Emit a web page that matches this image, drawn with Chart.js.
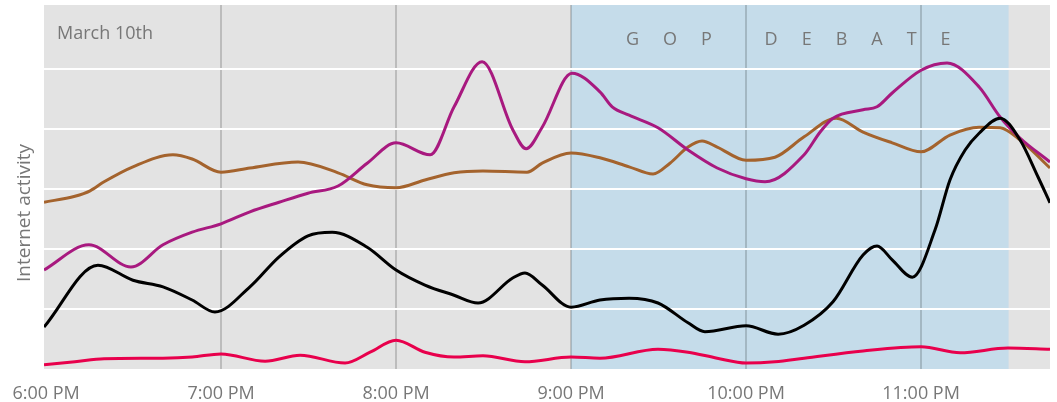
<!DOCTYPE html>
<html>
<head>
<meta charset="utf-8">
<script src="https://cdn.jsdelivr.net/npm/chart.js@4/dist/chart.umd.min.js"></script>
<style>
  html, body { margin: 0; padding: 0; background: #fff; }
  #wrap { position: relative; width: 1057px; height: 402px; }
</style>
</head>
<body>
<div id="wrap"><canvas id="activityChart"></canvas></div>
<script>
// minutes after 6:00 PM
const hourTicks = [0, 60, 120, 180, 240, 300];
const hourLabels = ['6:00 PM', '7:00 PM', '8:00 PM', '9:00 PM', '10:00 PM', '11:00 PM'];
const debateStart = 180;
const debateEnd = 330;

const blackTimes = [-0.7, 17.8, 29.8, 40.1, 50.1, 57.9, 69.9, 79.9, 89.8, 98.1, 110.1, 120, 129.9, 139.9, 148.1, 160.1, 164.2, 170.1, 180, 189.9, 199.9, 209.8, 220.1, 225.9, 240, 251, 259.9, 269.8, 280.1, 284.9, 290.1, 297, 304.8, 309.9, 315.1, 319.9, 327.1, 333.9, 340.1, 344.2];
const blackValues = [0.70, 1.73, 1.48, 1.37, 1.15, 0.95, 1.37, 1.87, 2.22, 2.28, 2.03, 1.65, 1.40, 1.23, 1.10, 1.52, 1.60, 1.40, 1.03, 1.15, 1.18, 1.10, 0.77, 0.62, 0.72, 0.58, 0.73, 1.12, 1.90, 2.05, 1.82, 1.53, 2.32, 3.15, 3.65, 3.93, 4.18, 3.82, 3.20, 2.77];

const magentaTimes = [-0.7, 14.7, 29.1, 40.1, 50.1, 60, 69.9, 79.9, 89.8, 100.1, 110.1, 120, 131.7, 139.9, 149.5, 160.1, 164.6, 170.1, 180.3, 189.9, 194.1, 199.9, 209.8, 220.1, 230.1, 240, 246.5, 259.9, 265.4, 269.8, 280.1, 284.9, 290.1, 300, 308.9, 319.9, 327.1, 333.9, 344.2];
const magentaValues = [1.65, 2.07, 1.70, 2.07, 2.28, 2.42, 2.62, 2.78, 2.93, 3.05, 3.43, 3.77, 3.57, 4.37, 5.12, 3.98, 3.67, 4.03, 4.93, 4.62, 4.37, 4.23, 4.02, 3.65, 3.35, 3.17, 3.12, 3.57, 3.95, 4.18, 4.32, 4.37, 4.60, 4.98, 5.10, 4.70, 4.20, 3.85, 3.45];

const brownTimes = [-0.7, 9.9, 15.1, 19.9, 29.8, 43.5, 50.1, 60, 69.9, 86.4, 100.1, 110.1, 120, 129.9, 139.9, 149.8, 164.9, 170.1, 180, 189.9, 199.9, 208.1, 213.9, 220.1, 224.9, 230.1, 240, 249.9, 259.9, 270.9, 280.1, 290.1, 300, 309.9, 319.9, 327.1, 333.9, 344.2];
const brownValues = [2.78, 2.88, 2.97, 3.12, 3.37, 3.57, 3.50, 3.28, 3.35, 3.45, 3.27, 3.07, 3.02, 3.15, 3.27, 3.30, 3.28, 3.43, 3.60, 3.52, 3.37, 3.25, 3.43, 3.70, 3.80, 3.70, 3.48, 3.53, 3.87, 4.18, 3.95, 3.77, 3.62, 3.90, 4.03, 4.02, 3.82, 3.35];

const redTimes = [-0.7, 9.9, 19.9, 40.1, 50.1, 60, 75.1, 87.1, 102.5, 111.1, 120, 129.9, 139.9, 149.8, 164.2, 180, 189.9, 209.8, 220.1, 230.1, 240, 249.9, 259.9, 280.1, 300, 313.4, 329.8, 344.2];
const redValues = [0.07, 0.12, 0.17, 0.18, 0.20, 0.25, 0.13, 0.23, 0.10, 0.28, 0.48, 0.28, 0.20, 0.22, 0.12, 0.20, 0.18, 0.33, 0.28, 0.18, 0.10, 0.12, 0.18, 0.30, 0.37, 0.27, 0.35, 0.33];

const toPoints = (xs, ys) => xs.map((x, i) => ({ x: x, y: ys[i] }));

const backdrop = {
  id: 'backdrop',
  beforeDraw(chart) {
    const { ctx, chartArea: a, scales: { x } } = chart;
    ctx.save();
    ctx.fillStyle = '#e3e3e3';
    ctx.fillRect(a.left, a.top, a.right - a.left, a.bottom - a.top);
    ctx.fillStyle = '#c5dcea';
    const x0 = x.getPixelForValue(debateStart);
    const x1 = x.getPixelForValue(debateEnd);
    ctx.fillRect(x0, a.top, x1 - x0, a.bottom - a.top);
    // axis title, sits a bit below the middle
    ctx.translate(25, 213);
    ctx.rotate(-Math.PI / 2);
    ctx.fillStyle = '#777';
    ctx.font = '19px "Open Sans"';
    ctx.textAlign = 'center';
    ctx.textBaseline = 'middle';
    ctx.fillText('Internet activity', 0, 0);
    ctx.restore();
  },
  beforeDatasetsDraw(chart) {
    const { ctx } = chart;
    ctx.save();
    ctx.fillStyle = '#777';
    ctx.font = '18px "Open Sans"';
    ctx.textBaseline = 'alphabetic';
    ctx.fillText('March 10th', 57, 39);
    let cx = 626;
    for (const ch of 'GOP DEBATE') {
      ctx.fillText(ch, cx, 45);
      cx += ctx.measureText(ch).width + 24;
    }
    ctx.restore();
  }
};

const line = (data, color) => ({
  data: data,
  borderColor: color,
  borderWidth: 3,
  pointRadius: 0,
  cubicInterpolationMode: 'monotone',
  fill: false
});

new Chart(document.getElementById('activityChart'), {
  type: 'line',
  data: {
    datasets: [
      line(toPoints(blackTimes, blackValues), '#000000'),
      line(toPoints(magentaTimes, magentaValues), '#a8197f'),
      line(toPoints(brownTimes, brownValues), '#a4632d'),
      line(toPoints(redTimes, redValues), '#e8004c')
    ]
  },
  options: {
    responsive: true,
    maintainAspectRatio: false,
    animation: false,
    layout: { padding: { left: 44, right: 7, top: 5, bottom: 0 } },
    plugins: { legend: { display: false }, tooltip: { enabled: false } },
    scales: {
      x: {
        type: 'linear',
        min: -0.7,
        max: 344.2,
        afterBuildTicks: s => { s.ticks = hourTicks.map(v => ({ value: v })); },
        afterFit: s => { s.height = 33; s.paddingLeft = 0; s.paddingRight = 0; },
        grid: {
          color: c => (c.tick && c.tick.value === 0 ? 'rgba(0,0,0,0)' : 'rgba(0,0,0,0.17)'),
          lineWidth: 2,
          drawTicks: false
        },
        border: { display: false },
        ticks: {
          color: '#777',
          font: { family: 'Open Sans', size: 18 },
          padding: 14,
          maxRotation: 0,
          callback: v => hourLabels[hourTicks.indexOf(v)]
        }
      },
      y: {
        min: 0,
        max: 6.067,
        afterBuildTicks: s => { s.ticks = [1, 2, 3, 4, 5].map(v => ({ value: v })); },
        afterFit: s => { s.width = 0; s.paddingTop = 0; s.paddingBottom = 0; },
        grid: { color: '#ffffff', lineWidth: 2, drawTicks: false },
        border: { display: false },
        ticks: { display: false }
      }
    }
  },
  plugins: [backdrop]
});
</script>
</body>
</html>
